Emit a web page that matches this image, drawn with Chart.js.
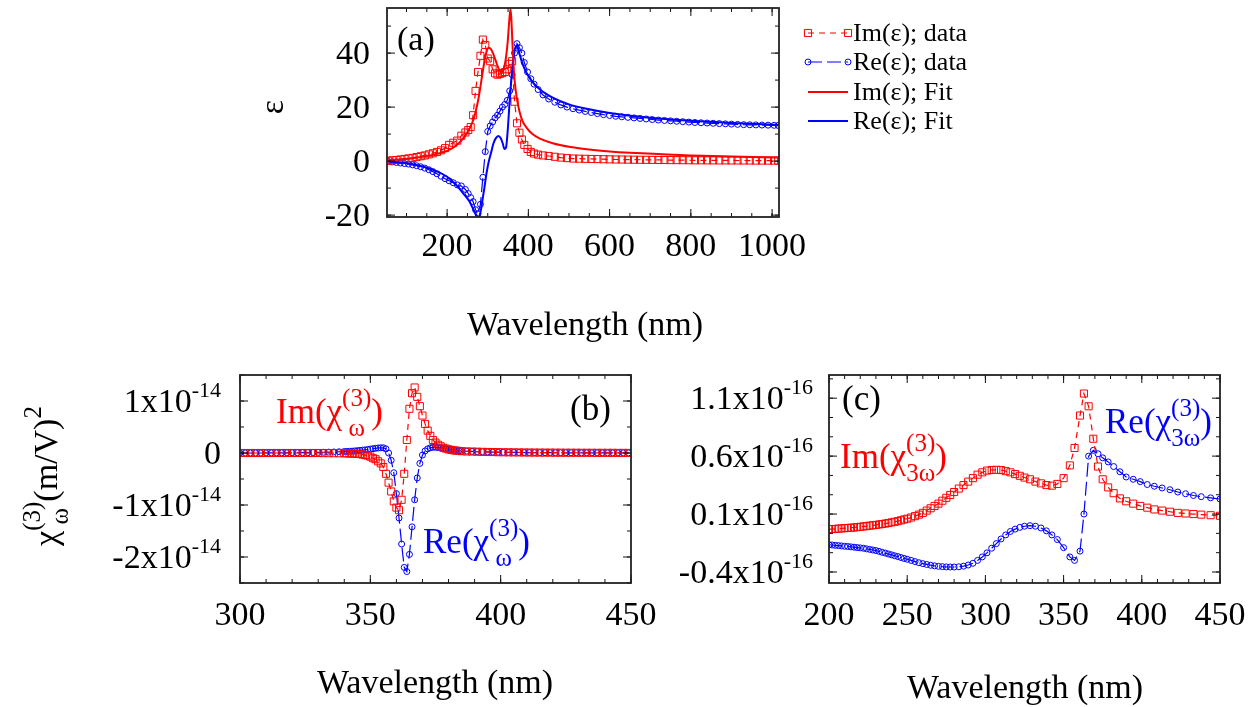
<!DOCTYPE html>
<html>
<head>
<meta charset="utf-8">
<script src="https://cdn.jsdelivr.net/npm/chart.js@4"></script>
<style>
  body { margin: 0; background: #fff; }
  canvas { position: absolute; }
</style>
</head>
<body>
<canvas id="chartA" width="1258" height="350" style="left:0;top:0"></canvas>
<canvas id="chartB" width="680" height="357" style="left:0;top:350px"></canvas>
<canvas id="chartC" width="618" height="357" style="left:640px;top:350px"></canvas>
<script>
// ---- panel (a): permittivity, data + fit ----
const aDataX = [55,65,75,85,95,105,115,125,135,145,155,165,175,185,195,205,215,225,235,245,
  252,258,264,270,276,282,288,294,300,306,312,318,324,330,336,342,348,354,360,366,372,378,384,390,
  398,406,414,424,436,
  450,465,480,495,510,525,540,555,570,585,600,615,630,645,660,675,690,705,720,735,
  750,765,780,795,810,825,840,855,870,885,900,915,930,945,960,975,990,1005,1015];
const aImData = [0.1,0.3,0.4,0.6,0.8,1.0,1.2,1.5,1.8,2.1,2.5,2.9,3.4,4.0,4.8,6.0,6.8,7.6,9.4,10.6,
  11.5,12.6,17,26,33,39,45,43,38,37,34,32.5,32,32.3,32.6,33,34,36,37,22,14,10.5,8,6,
  4.5,3.4,2.8,2.4,2.1,
  1.9,1.6,1.3,1.1,0.95,0.9,0.85,0.8,0.75,0.7,0.65,0.6,0.58,0.55,0.52,0.5,0.47,0.45,0.42,0.4,
  0.38,0.36,0.34,0.32,0.3,0.29,0.28,0.27,0.26,0.25,0.24,0.23,0.22,0.21,0.2,0.19,0.18,0.17,0.16];
const aReData = [-0.1,-0.3,-0.5,-0.7,-0.9,-1.1,-1.4,-1.7,-2.1,-2.6,-3.2,-3.9,-4.7,-5.6,-6.5,-7.3,-8.0,-8.8,-9.2,-10.5,
  -12,-13.5,-15,-18,-19.5,-16,-6,3.5,11,13,14.5,16,17,18.5,20,21,22.5,26,32,40,43.5,42,40,36.5,
  33,30.5,28.5,26.5,24.5,
  23,21.8,20.8,20,19.4,18.9,18.4,18,17.6,17.2,16.9,16.6,16.4,16.2,16.0,15.8,15.6,15.4,15.2,15.05,
  14.9,14.75,14.6,14.45,14.3,14.2,14.1,14.0,13.9,13.8,13.7,13.6,13.5,13.45,13.4,13.35,13.3,13.25,13.2];
const aFitX = [55,80,110,140,170,200,220,240,255,265,272,277,282,287,292,297,302,308,314,320,
  326,332,337,341,345,349,353,356,358,361,365,369,373,378,385,395,410,430,460,500,550,600,650,720,800,900,1017];
const aImFit = [0.3,0.6,1.0,1.6,2.5,3.8,5.5,8.5,12,15.5,19.5,23,27.5,32.5,37,40.5,42,41.5,39.5,37,
  34.5,33,33.3,35,38.5,44,52,56.3,53,43,32,26,22,18.5,15,12.5,10,8.2,6.6,5.3,4.3,3.6,3.1,2.6,2.1,1.7,1.3];
const aReFit = [-0.1,-0.5,-1.0,-2.0,-3.5,-5.8,-8.5,-12,-15,-18,-20,-20.6,-19,-14.5,-9.6,-4.5,-0.5,3,6.5,8.5,
  9.3,8.5,6.5,4.5,5,11,20,26,30,35,40,42.5,42.3,39.8,36.3,32.8,29.3,26.3,23.5,21,19.2,17.8,16.8,15.8,14.9,14.1,13.4];
const aXTicks = [200,400,600,800,1000];
const aYTicks = [-20,0,20,40];

// ---- panel (b): chi(3) at omega, units of 1e-14 (m/V)^2 ----
const bX = [300,302,304,306,308,310,312,314,316,318,320,322,324,326,328,330,332,334,336,338,340,
  341,342,343,344,345,346,347,348,349,350,351,352,353,354,355,356,357,358,359,360,
  361,362,363,364,365,366,367,368,369,370,371,372,373,374,375,376,377,378,379,380,
  381,382,383,384,385,
  387,389,391,393,395,397,399,401,403,405,407,409,411,413,415,417,419,421,423,425,427,429,431,433,435,437,439,441,443,445,447,449];
const bIm = [0,0,0,0,0,0,0,0,0,0,0,0,0,0,0,0,-0.002,-0.003,-0.004,-0.005,-0.006,
  -0.007,-0.009,-0.011,-0.013,-0.016,-0.02,-0.03,-0.04,-0.05,-0.07,
  -0.1,-0.12,-0.16,-0.2,-0.27,-0.4,-0.57,-0.74,-0.93,-1.05,
  -1.1,-0.9,-0.4,0.25,0.85,1.15,1.26,1.08,0.9,0.72,
  0.56,0.43,0.33,0.25,0.2,0.16,0.13,0.1,0.085,0.07,
  0.06,0.05,0.045,0.04,0.035,
  0.03,0.028,0.025,0.022,0.02,0.018,0.016,0.014,0.013,0.012,0.011,0.01,0.009,0.008,0.008,0.007,
  0.007,0.006,0.006,0.005,0.005,0.005,0.004,0.004,0.004,0.003,0.003,0.003,0.003,0.002,0.002,0.002];
const bRe = [0,0,0,0,0,0.001,0.001,0.002,0.002,0.003,0.004,0.005,0.006,0.008,0.01,0.012,0.014,0.017,0.02,0.024,0.028,
  0.03,0.033,0.036,0.04,0.045,0.05,0.055,0.06,0.067,0.075,
  0.083,0.09,0.097,0.1,0.1,0.08,0.0,-0.14,-0.38,-0.78,
  -1.25,-1.75,-2.2,-2.28,-1.95,-1.42,-0.9,-0.48,-0.2,-0.04,
  0.04,0.08,0.1,0.11,0.11,0.105,0.1,0.09,0.08,0.072,
  0.065,0.058,0.052,0.047,0.042,
  0.036,0.031,0.027,0.023,0.02,0.018,0.016,0.014,0.012,0.011,0.01,0.009,0.008,0.007,0.007,0.006,
  0.006,0.005,0.005,0.004,0.004,0.004,0.003,0.003,0.003,0.003,0.002,0.002,0.002,0.002,0.002,0.001];
const bXTicks = [300,350,400,450];
const bYTicks = [-2,-1,0,1];

// ---- panel (c): chi(3) at 3 omega, units of 1e-16 (m/V)^2 ----
const cX = [200,202,204,206,208,210,212,214,216,218,220,222,224,226,228,230,232,234,236,238,
  240,242,244,246,248,250,252.5,255,257.5,260,262.5,265,267.5,270,272.5,275,277.5,280,283,286,
  289,292,295,298,301,304,307,310,313,316,319,322,325,328.5,332,335.5,339,342.5,346,350,
  354,357,360.5,363,366,369,372,375,378.5,382,386,390,394.5,399,403.5,408,413,418,423,428,433,438,444,450];
const cIm = [-0.03,-0.03,-0.028,-0.026,-0.024,-0.022,-0.02,-0.018,-0.016,-0.013,
  -0.01,-0.007,-0.004,0.0,0.003,0.006,0.01,0.014,0.018,0.023,
  0.028,0.033,0.039,0.046,0.053,0.06,0.07,0.082,0.095,0.11,
  0.13,0.15,0.17,0.19,0.215,0.24,0.265,0.29,0.32,0.35,
  0.38,0.41,0.44,0.46,0.475,0.48,0.482,0.48,0.47,0.46,
  0.445,0.43,0.415,0.40,0.38,0.365,0.35,0.345,0.36,0.41,
  0.52,0.67,0.95,1.14,1.03,0.75,0.51,0.40,0.33,0.28,
  0.235,0.21,0.19,0.17,0.155,0.14,0.13,0.12,0.11,0.105,0.1,0.095,0.09,0.085];
const cRe = [-0.165,-0.167,-0.17,-0.172,-0.175,-0.178,-0.18,-0.183,-0.186,-0.189,
  -0.192,-0.195,-0.2,-0.205,-0.21,-0.215,-0.222,-0.23,-0.237,-0.245,
  -0.252,-0.26,-0.267,-0.275,-0.283,-0.29,-0.3,-0.31,-0.32,-0.328,
  -0.335,-0.342,-0.347,-0.351,-0.354,-0.356,-0.357,-0.357,-0.355,-0.35,
  -0.34,-0.325,-0.3,-0.27,-0.235,-0.195,-0.155,-0.115,-0.08,-0.05,
  -0.03,-0.015,-0.005,0.0,-0.005,-0.02,-0.045,-0.08,-0.12,-0.19,
  -0.27,-0.30,-0.22,0.1,0.6,0.65,0.62,0.585,0.55,0.51,
  0.465,0.42,0.40,0.38,0.355,0.34,0.325,0.31,0.29,0.275,0.26,0.25,0.24,0.23];
const cXTicks = [200,250,300,350,400,450];
const cYTicks = [-0.4,0.1,0.6,1.1];

const RED = '#ff0000';
const BLUE = '#0000ff';
const FF = '"Liberation Serif", "Times New Roman", serif';

function pts(xs, ys) {
  return xs.map((x, i) => ({ x: x, y: ys[i] }));
}

function dataSet(label, xs, ys, color, style, dash, radius) {
  return {
    label: label, data: pts(xs, ys), showLine: true,
    borderColor: color, borderWidth: 1.2, borderDash: dash,
    pointStyle: style, pointRadius: radius, pointBorderColor: color,
    pointBackgroundColor: 'rgba(0,0,0,0)', pointBorderWidth: 1, order: 2
  };
}

function fitSet(label, xs, ys, color) {
  return {
    label: label, data: pts(xs, ys), showLine: true,
    borderColor: color, borderWidth: 2, pointRadius: 0,
    cubicInterpolationMode: 'monotone', order: 1
  };
}

// text helpers: parts are {t} or {sup, sub} stacks
function setFont(ctx, size) {
  ctx.font = size + 'px ' + FF;
}
function partWidth(ctx, p, base) {
  if (p.t !== undefined) {
    setFont(ctx, p.size || base);
    return ctx.measureText(p.t).width;
  }
  setFont(ctx, p.size);
  return Math.max(ctx.measureText(p.sup).width, ctx.measureText(p.sub || '').width);
}
function drawRich(ctx, parts, x, y, align, color, base) {
  let w = 0;
  parts.forEach(p => { w += partWidth(ctx, p, base); });
  let cx = align === 'right' ? x - w : (align === 'center' ? x - w / 2 : x);
  ctx.fillStyle = color;
  ctx.textAlign = 'left';
  ctx.textBaseline = 'alphabetic';
  parts.forEach(p => {
    const pw = partWidth(ctx, p, base);
    if (p.t !== undefined) {
      ctx.fillText(p.t, cx, y + (p.dy || 0));
    } else {
      const ws = ctx.measureText(p.sup).width;
      ctx.fillText(p.sup, cx + (pw - ws) / 2, y + p.supDy);
      if (p.sub) {
        const wb = ctx.measureText(p.sub).width;
        ctx.fillText(p.sub, cx + (pw - wb) / 2, y + p.subDy);
      }
    }
    cx += pw;
  });
}

function chiLabel(head, sub) {
  return [{ t: head + '(\u03c7', size: 35 }, { sup: '(3)', sub: sub, size: 25, supDy: -17, subDy: 13 }, { t: ')', size: 35 }];
}

function drawMarker(ctx, style, x, y, r) {
  ctx.beginPath();
  if (style === 'rect') {
    const s = r * Math.SQRT1_2;
    ctx.rect(x - s, y - s, 2 * s, 2 * s);
  } else {
    ctx.arc(x, y, r, 0, Math.PI * 2);
  }
  ctx.stroke();
}

// frame, inward ticks, tick labels and all the annotations
const decor = {
  id: 'decor',
  afterDatasetsDraw(chart, args, o) {
    const ctx = chart.ctx;
    const a = chart.chartArea;
    const xs = chart.scales.x;
    const ys = chart.scales.y;
    ctx.save();
    ctx.strokeStyle = '#111';
    ctx.lineWidth = 1;
    const marks = (scale, step, horiz) => {
      const majors = scale.ticks.map(t => t.value);
      const list = [];
      for (let k = -100; k <= 100; k++) {
        const v = majors[0] + k * step;
        if (v >= scale.min - 1e-9 && v <= scale.max + 1e-9) list.push([v, 4]);
      }
      majors.forEach(v => list.push([v, 8]));
      list.forEach(([v, len]) => {
        const p = scale.getPixelForValue(v);
        ctx.beginPath();
        if (horiz) {
          ctx.moveTo(p, a.bottom); ctx.lineTo(p, a.bottom - len);
          ctx.moveTo(p, a.top); ctx.lineTo(p, a.top + len);
        } else {
          ctx.moveTo(a.left, p); ctx.lineTo(a.left + len, p);
          ctx.moveTo(a.right, p); ctx.lineTo(a.right - len, p);
        }
        ctx.stroke();
      });
    };
    marks(xs, o.xMinor, true);
    marks(ys, o.yMinor, false);
    ctx.lineWidth = 1.8;
    ctx.strokeStyle = '#222';
    ctx.strokeRect(a.left, a.top, a.right - a.left, a.bottom - a.top);
    ctx.restore();
  },
  afterDraw(chart, args, o) {
    const ctx = chart.ctx;
    const a = chart.chartArea;
    ctx.save();
    chart.scales.x.ticks.forEach(t => {
      const px = chart.scales.x.getPixelForValue(t.value);
      drawRich(ctx, [{ t: String(t.value) }], px, a.bottom + o.xLabGap, 'center', '#000', 34);
    });
    chart.scales.y.ticks.forEach(t => {
      const py = chart.scales.y.getPixelForValue(t.value);
      drawRich(ctx, o.yFormat(t.value), a.left - o.yLabPad, py + 11, 'right', '#000', 34);
    });
    drawRich(ctx, [{ t: 'Wavelength (nm)' }], o.xTitle[0], o.xTitle[1], 'center', '#000', 34);
    if (o.yTitle) {
      ctx.save();
      ctx.translate(o.yTitle[0], o.yTitle[1]);
      ctx.rotate(-Math.PI / 2);
      drawRich(ctx, o.yTitleParts, 0, 0, 'center', '#000', 34);
      ctx.restore();
    }
    (o.notes || []).forEach(n => drawRich(ctx, n.parts, n.x, n.y, 'left', n.color, 35));
    if (o.legend) {
      const L = o.legend;
      chart.data.datasets.forEach((ds, i) => {
        const y = L.y[i];
        ctx.strokeStyle = ds.borderColor;
        ctx.lineWidth = ds.borderWidth;
        ctx.setLineDash(ds.borderDash || []);
        ctx.beginPath();
        ctx.moveTo(L.x0, y); ctx.lineTo(L.x1, y);
        ctx.stroke();
        ctx.setLineDash([]);
        if (ds.pointRadius > 0) {
          ctx.lineWidth = 1;
          drawMarker(ctx, ds.pointStyle, L.x0, y, ds.pointRadius);
          drawMarker(ctx, ds.pointStyle, L.x1, y, ds.pointRadius);
        }
        drawRich(ctx, [{ t: ds.label }], L.tx, y + 8, 'left', '#000', 26);
      });
    }
    ctx.restore();
  }
};

function makeChart(id, W, H, area, datasets, xr, yr, xTicks, yTicks, deco) {
  const ctx = document.getElementById(id).getContext('2d');
  return new Chart(ctx, {
    type: 'scatter',
    data: { datasets: datasets },
    plugins: [decor],
    options: {
      responsive: false,
      animation: false,
      devicePixelRatio: 1,
      events: [],
      layout: { padding: { left: 0, top: area.top, right: W - area.right, bottom: 0 } },
      plugins: { legend: { display: false }, tooltip: { enabled: false }, decor: deco },
      scales: {
        x: {
          type: 'linear', min: xr[0], max: xr[1],
          afterBuildTicks: s => { s.ticks = xTicks.map(v => ({ value: v })); },
          afterFit: s => { s.height = H - area.bottom; s.paddingLeft = 0; s.paddingRight = 0; },
          ticks: { display: false }, grid: { display: false, drawTicks: false }, border: { display: false }
        },
        y: {
          type: 'linear', min: yr[0], max: yr[1],
          afterBuildTicks: s => { s.ticks = yTicks.map(v => ({ value: v })); },
          afterFit: s => { s.width = area.left; s.paddingTop = 0; s.paddingBottom = 0; },
          ticks: { display: false }, grid: { display: false, drawTicks: false }, border: { display: false }
        }
      }
    }
  });
}

// panel (a)
makeChart('chartA', 1258, 350, { left: 387, right: 779, top: 8, bottom: 217 }, [
  dataSet('Im(\u03b5); data', aDataX, aImData, RED, 'rect', [6, 5], 5),
  dataSet('Re(\u03b5); data', aDataX, aReData, BLUE, 'circle', [14, 5], 3),
  fitSet('Im(\u03b5); Fit', aFitX, aImFit, RED),
  fitSet('Re(\u03b5); Fit', aFitX, aReFit, BLUE)
], [52, 1017], [-20.7, 56.7], aXTicks, aYTicks, {
  xMinor: 50, yMinor: 10, xLabGap: 39, yLabPad: 17,
  yFormat: v => [{ t: String(v) }],
  xTitle: [585, 335],
  yTitle: [283, 107], yTitleParts: [{ t: '\u03b5' }],
  notes: [{ parts: [{ t: '(a)', size: 34 }], x: 397, y: 50, color: '#000' }],
  legend: { x0: 808, x1: 848, tx: 853, y: [33, 62, 92, 121] }
});

// panel (b)
makeChart('chartB', 680, 357, { left: 240, right: 631, top: 25, bottom: 233 }, [
  dataSet('Im', bX, bIm, RED, 'rect', [6, 5], 5),
  dataSet('Re', bX, bRe, BLUE, 'circle', [14, 5], 3)
], [300, 450], [-2.5, 1.5], bXTicks, bYTicks, {
  xMinor: 10, yMinor: 0.5, xLabGap: 42, yLabPad: 19,
  yFormat: v => v === 0 ? [{ t: '0' }] : [{ t: v + 'x10' }, { t: '-14', size: 22, dy: -15 }],
  xTitle: [435, 343],
  yTitle: [57, 126],
  yTitleParts: [{ t: '\u03c7' }, { sup: '(3)', sub: '\u03c9', size: 25, supDy: -17, subDy: 11 }, { t: '(m/V)' }, { t: '2', size: 25, dy: -16 }],
  notes: [
    { parts: chiLabel('Im', '\u03c9'), x: 276, y: 73, color: RED },
    { parts: chiLabel('Re', '\u03c9'), x: 423, y: 203, color: BLUE },
    { parts: [{ t: '(b)', size: 35 }], x: 570, y: 70, color: '#000' }
  ]
});

// panel (c)
makeChart('chartC', 618, 357, { left: 189, right: 580, top: 25, bottom: 233 }, [
  dataSet('Im', cX, cIm, RED, 'rect', [6, 5], 5),
  dataSet('Re', cX, cRe, BLUE, 'circle', [14, 5], 3)
], [200, 450], [-0.495, 1.3], cXTicks, cYTicks, {
  xMinor: 10, yMinor: 1 / 6, xLabGap: 42, yLabPad: 16,
  yFormat: v => [{ t: v.toFixed(1) + 'x10' }, { t: '-16', size: 22, dy: -15 }],
  xTitle: [385, 348],
  notes: [
    { parts: [{ t: '(c)', size: 35 }], x: 202, y: 60, color: '#000' },
    { parts: chiLabel('Im', '3\u03c9'), x: 200, y: 118, color: RED },
    { parts: chiLabel('Re', '3\u03c9'), x: 465, y: 83, color: BLUE }
  ]
});
</script>
</body>
</html>
